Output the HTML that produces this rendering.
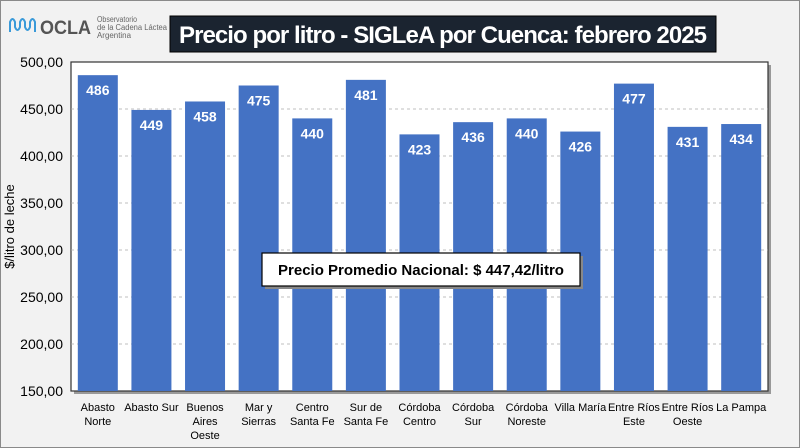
<!DOCTYPE html>
<html><head><meta charset="utf-8"><style>
body{margin:0;width:800px;height:448px;overflow:hidden;background:#fff;font-family:"Liberation Sans",sans-serif}
#wrap{position:absolute;left:0;top:0;width:798px;height:446px;border:1px solid #8a8a8a;background:#f2f2f2}
</style></head><body>
<div id="wrap"></div>
<svg id="c" width="800" height="448" style="position:absolute;left:0;top:0"></svg>
<script>
const categories=[["Abasto","Norte"],["Abasto Sur"],["Buenos","Aires","Oeste"],["Mar y","Sierras"],["Centro","Santa Fe"],["Sur de","Santa Fe"],["Córdoba","Centro"],["Córdoba","Sur"],["Córdoba","Noreste"],["Villa María"],["Entre Ríos","Este"],["Entre Ríos","Oeste"],["La Pampa"]];
const values=[486,449,458,475,440,481,423,436,440,426,477,431,434];
const ticks=[150,200,250,300,350,400,450,500];
const tickLabels=["150,00","200,00","250,00","300,00","350,00","400,00","450,00","500,00"];
const NS="http://www.w3.org/2000/svg";
const svg=document.getElementById('c');
const L=71,R=768,T=62,B=391,ymin=150,ymax=500;
const y=v=>B-(v-ymin)/(ymax-ymin)*(B-T);
const band=(R-L)/categories.length;
const x=i=>L+band*(i+0.5);
function mk(t,a,p){const e=document.createElementNS(NS,t);for(const k in a)e.setAttribute(k,a[k]);(p||svg).appendChild(e);return e;}
// logo
let g=mk('g',{});


mk('path',{d:"M10 32 L10 22 Q12.5 16 15 22 L15 27 Q17.5 33 20 27 L20 22 Q22.5 16 25 22 L25 27 Q27.5 33 30 27 L30 22 Q32.5 16 35 22 L35 32",fill:"none",stroke:"#3a9ad9","stroke-width":"2"},g);
let t=mk('text',{x:40,y:34,"font-size":"19","font-weight":"bold",fill:"#555",textLength:"51",lengthAdjust:"spacingAndGlyphs"},g);t.textContent="OCLA";
[["Observatorio",22,40],["de la Cadena Láctea",30,70],["Argentina",38,34]].forEach(([s,yy,w])=>{let e=mk('text',{x:97,y:yy,"font-size":"8",fill:"#666",textLength:w,lengthAdjust:"spacingAndGlyphs"},g);e.textContent=s;});
// title
let tb=mk('rect',{x:170,y:16,width:546,height:36,fill:"#1b2430",stroke:"#000"});


let tt=mk('text',{x:443,y:43,"text-anchor":"middle","font-size":"24","font-weight":"bold",fill:"#fff",textLength:"528"});


tt.textContent="Precio por litro - SIGLeA por Cuenca: febrero 2025";
// plot
mk('rect',{x:L+3,y:T+3,width:R-L,height:B-T,fill:"#999"});
let pa=mk('rect',{x:L,y:T,width:R-L,height:B-T,fill:"#fff",stroke:"#333","stroke-width":"1.2"});


ticks.forEach((v,i)=>{
 if(v>ymin&&v<ymax){let gl=mk('line',{x1:L,x2:R,y1:y(v),y2:y(v),stroke:"#aaa","stroke-dasharray":"3,3","stroke-width":"0.8"});
 
 }
 let e=mk('text',{x:L-8,y:y(v)+5,"text-anchor":"end","font-size":"14",fill:"#000"});
 
 
 e.textContent=tickLabels[i];
});
let yt=mk('text',{transform:"translate(14,"+((T+B)/2)+") rotate(-90)","text-anchor":"middle","font-size":"13",fill:"#000"});


yt.textContent="$/litro de leche";
const bw=40;
values.forEach((v,i)=>{
 let r=mk('rect',{x:x(i)-bw/2,y:y(v),width:bw,height:B-y(v),fill:"#4472c4"});
 
 
 let lb=mk('text',{x:x(i),y:y(v)+20,"text-anchor":"middle","font-size":"14","font-weight":"bold",fill:"#fff"});
 
 
 lb.textContent=v;
 categories[i].forEach((s,j)=>{
  let c=mk('text',{x:x(i),y:B+20+j*14,"text-anchor":"middle","font-size":"11",fill:"#000"});
  
  
  c.textContent=s;
 });
});
// average label
mk('rect',{x:265,y:256,width:318,height:33,fill:"#888"});
let ab=mk('rect',{x:262,y:253,width:318,height:33,fill:"#fff",stroke:"#000","stroke-width":"1.2"});


let at=mk('text',{x:421,y:275,"text-anchor":"middle","font-size":"15","font-weight":"bold",fill:"#000"});


at.textContent="Precio Promedio Nacional: $ 447,42/litro";
</script>
</body></html>
